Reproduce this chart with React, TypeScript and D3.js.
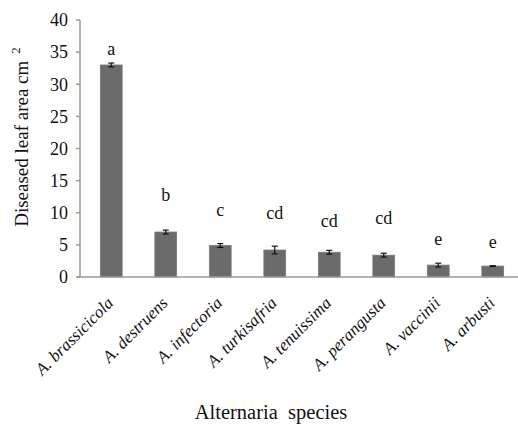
import React from "react";
import * as d3 from "d3";

const categories = [
  "A. brassicicola",
  "A. destruens",
  "A. infectoria",
  "A. turkisafria",
  "A. tenuissima",
  "A. perangusta",
  "A. vaccinii",
  "A. arbusti",
];
const values = [33.0, 7.0, 4.9, 4.2, 3.85, 3.4, 1.85, 1.7];
const errors = [0.3, 0.3, 0.3, 0.6, 0.3, 0.3, 0.3, 0.05];
const letters = ["a", "b", "c", "cd", "cd", "cd", "e", "e"];
const letterLevels = [34.6, 11.8, 9.5, 9.0, 7.8, 8.2, 5.0, 4.5];
const yTicks = [0, 5, 10, 15, 20, 25, 30, 35, 40];

const W = 518;
const H = 425;
const font = "Liberation Serif, Times New Roman, Times, serif";

export default function App() {
  const x = d3
    .scaleBand<string>()
    .domain(categories)
    .range([84, 520])
    .paddingInner(0.6)
    .paddingOuter(0.3);
  const y = d3.scaleLinear().domain([0, 40]).range([277, 20]);
  const axisColor = "#9a9a9a";
  const barColor = "#6b6b6b";

  return (
    <svg
      width={W}
      height={H}
      style={{ position: "absolute", left: 0, top: 0, background: "#fff" }}
    >
      {/* y axis */}
      <line x1={80} x2={80} y1={y(40)} y2={y(0)} stroke={axisColor} strokeWidth={1.5} />
      {yTicks.map((t) => (
        <g key={t}>
          <line x1={76} x2={80} y1={y(t)} y2={y(t)} stroke={axisColor} strokeWidth={1.5} />
          <text
            x={68}
            y={y(t)}
            dy="0.35em"
            textAnchor="end"
            fontFamily={font}
            fontSize={18}
            fill="#111"
          >
            {t}
          </text>
        </g>
      ))}
      {/* bars */}
      {categories.map((c, i) => {
        const bx = x(c)!;
        const bw = x.bandwidth();
        const cx = bx + bw / 2;
        return (
          <g key={c}>
            <rect
              x={bx}
              y={y(values[i])}
              width={bw}
              height={y(0) - y(values[i])}
              fill={barColor}
              stroke="#7a7a7a"
              strokeWidth={0.8}
            />
            <line x1={cx} x2={cx} y1={y(values[i] + errors[i])} y2={y(values[i] - errors[i])} stroke="#111" strokeWidth={1.2} />
            <line x1={cx - 3} x2={cx + 3} y1={y(values[i] + errors[i])} y2={y(values[i] + errors[i])} stroke="#111" strokeWidth={1.2} />
            <line x1={cx - 3} x2={cx + 3} y1={y(values[i] - errors[i])} y2={y(values[i] - errors[i])} stroke="#111" strokeWidth={1.2} />
            <text
              x={cx}
              y={y(letterLevels[i])}
              textAnchor="middle"
              fontFamily={font}
              fontSize={18}
              fill="#111"
            >
              {letters[i]}
            </text>
            <text
              transform={`translate(${cx + 3},${y(0) + 27}) rotate(-45)`}
              textAnchor="end"
              fontFamily={font}
              fontStyle="italic"
              fontSize={17}
              fill="#111"
            >
              {c}
            </text>
          </g>
        );
      })}
      {/* baseline */}
      <line x1={77} x2={518} y1={y(0)} y2={y(0)} stroke={axisColor} strokeWidth={1.5} />
      {/* y title */}
      <text
        transform={`translate(28,137) rotate(-90)`}
        textAnchor="middle"
        fontFamily={font}
        fontSize={19}
        fill="#111"
      >
        Diseased leaf area cm
        <tspan dx={7} dy={-8} fontSize={13}>2</tspan>
      </text>
      {/* x title */}
      <text
        x={271}
        y={419}
        textAnchor="middle"
        fontFamily={font}
        fontSize={20.5}
        fill="#111"
        style={{ whiteSpace: "pre" }}
        xmlSpace="preserve"
      >
        {"Alternaria  species"}
      </text>
    </svg>
  );
}
